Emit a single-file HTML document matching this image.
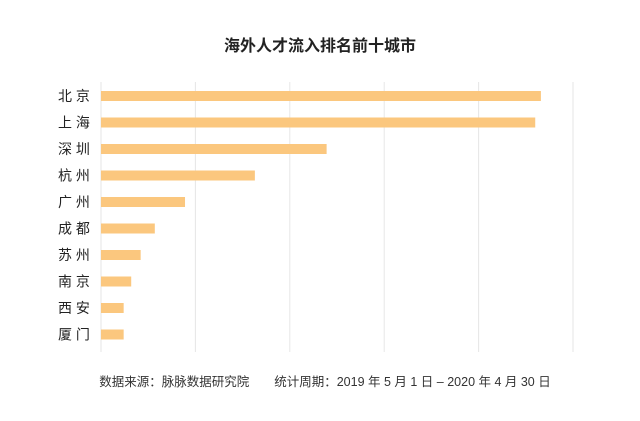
<!DOCTYPE html>
<html><head><meta charset="utf-8"><style>
body{margin:0;background:#fff;font-family:"Liberation Sans","Noto Sans CJK SC",sans-serif;}
</style></head><body>
<svg width="640" height="416" xmlns="http://www.w3.org/2000/svg">
<rect width="640" height="416" fill="#fff"/>
<text x="320" y="51" text-anchor="middle" font-size="16" font-weight="bold" fill="#222" font-family="Liberation Sans,Noto Sans CJK SC,sans-serif">海外人才流入排名前十城市</text>
<g id="grid"></g><g id="bars"></g><g id="labels"></g>
<text x="325" y="386" text-anchor="middle" font-size="12.5" fill="#333" font-family="Liberation Sans,Noto Sans CJK SC,sans-serif">数据来源：脉脉数据研究院　　统计周期：2019 年 5 月 1 日 – 2020 年 4 月 30 日</text>
</svg>
<script>
const categories=["北 京","上 海","深 圳","杭 州","广 州","成 都","苏 州","南 京","西 安","厦 门"];
const values=[466,460,239,163,89,57,42,32,24,24];
const ticks=[0,100,200,300,400,500];
const NS="http://www.w3.org/2000/svg";
const x0=101,x1=573,maxV=500,yTop=96,step=26.5;
const xs=v=>x0+(v/maxV)*(x1-x0);
const ys=i=>yTop+i*step;
const grid=document.getElementById('grid'),bars=document.getElementById('bars'),labels=document.getElementById('labels');
ticks.forEach(t=>{
 const l=document.createElementNS(NS,'line');
 l.setAttribute('x1',xs(t));l.setAttribute('x2',xs(t));l.setAttribute('y1',82);l.setAttribute('y2',352);
 l.setAttribute('stroke','#e6e6e6');l.setAttribute('stroke-width','1');
 
 
 grid.appendChild(l);
});
categories.forEach((c,i)=>{
 const r=document.createElementNS(NS,'rect');
 r.setAttribute('x',x0);r.setAttribute('y',ys(i)-5);r.setAttribute('width',xs(values[i])-x0);r.setAttribute('height',10);
 r.setAttribute('fill','#fbc77e');
 
 
 bars.appendChild(r);
 const t=document.createElementNS(NS,'text');
 t.setAttribute('x',58);t.setAttribute('y',ys(i)+5);t.setAttribute('font-size','14');t.setAttribute('fill','#222');
 t.setAttribute('font-family','Liberation Sans,Noto Sans CJK SC,sans-serif');
 t.textContent=c;
 
 
 labels.appendChild(t);
});
</script>
</body></html>
